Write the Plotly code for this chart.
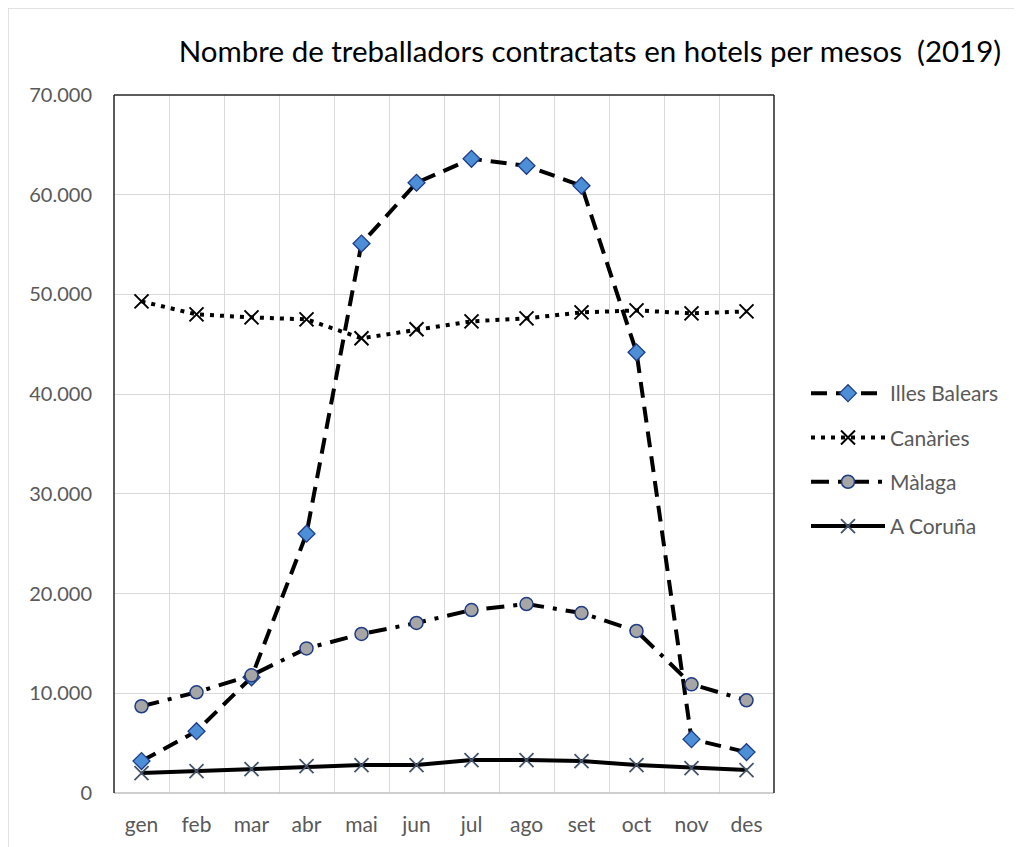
import plotly.graph_objects as go

months = ["gen", "feb", "mar", "abr", "mai", "jun", "jul", "ago", "set", "oct", "nov", "des"]
balears = [3200, 6200, 11600, 26000, 55100, 61200, 63600, 62900, 60900, 44200, 5400, 4100]
canaries = [49300, 48000, 47700, 47500, 45600, 46500, 47300, 47600, 48200, 48400, 48100, 48300]
malaga = [8700, 10100, 11800, 14500, 15950, 17050, 18350, 18950, 18050, 16250, 10900, 9300]
coruna = [2000, 2200, 2400, 2700, 2800, 2800, 3300, 3300, 3200, 2800, 2500, 2300]
yticks = [0, 10000, 20000, 30000, 40000, 50000, 60000, 70000]

FONT = "Lato"
GRAY = "#595959"

fig = go.Figure()
fig.add_trace(go.Scatter(
    x=months, y=balears, name="Illes Balears", mode="lines+markers", legendgroup="a",
    line=dict(color="black", width=4, dash="16px,9px"),
    marker=dict(symbol="diamond", size=13, color="#4C8FD6", line=dict(color="#1F3C88", width=1.3)),
))
fig.add_trace(go.Scatter(
    x=months, y=canaries, name="Canàries", mode="lines+markers", legendgroup="b",
    line=dict(color="black", width=4, dash="4px,6px"),
    marker=dict(symbol="x-thin", size=14, color="black", line=dict(color="black", width=2)),
))
fig.add_trace(go.Scatter(
    x=months, y=malaga, name="Màlaga", mode="lines+markers", legendgroup="c",
    line=dict(color="black", width=4, dash="18px,9px,4px,9px"),
    marker=dict(symbol="circle", size=13, color="#A6A6A6", line=dict(color="#1F3C88", width=1.5)),
))
fig.add_trace(go.Scatter(
    x=months, y=coruna, name="A Coruña", mode="lines+markers", legendgroup="d",
    line=dict(color="black", width=4),
    marker=dict(symbol="x-thin", size=14, color="#44546A", line=dict(color="#44546A", width=1.8)),
))

OFF = 8  # default page body margin
W, H = 1022, 847
# target positions on the page, converted to figure pixels
L, R, T, B = 114 - OFF, 774 - OFF, 95 - OFF, 793 - OFF

def px_x(px):
    return (px - OFF - L) / (R - L)

def px_y(py):
    return (B - (py - OFF)) / (B - T)

fig.update_layout(
    width=W, height=H,
    margin=dict(l=L, r=W - R, t=T, b=H - B, pad=0),
    paper_bgcolor="white", plot_bgcolor="white",
    separators=",.",
    font=dict(family=FONT, size=20, color=GRAY),
    title=dict(
        text="Nombre de treballadors contractats en hotels per mesos  (2019)",
        font=dict(family=FONT, size=29.5, color="black"),
        x=(590 - OFF) / W, xanchor="center", xref="container",
        y=1 - (52 - OFF) / H, yanchor="middle", yref="container",
    ),
    showlegend=True,
    legend=dict(
        x=px_x(806), y=px_y(373), xanchor="left", yanchor="top",
        font=dict(family=FONT, size=21, color=GRAY),
        tracegroupgap=14, itemwidth=74, bgcolor="rgba(0,0,0,0)",
    ),
    xaxis=dict(
        type="category", range=[-0.5, len(months) - 0.5], tickson="boundaries",
        showgrid=True, gridcolor="#D9D9D9", gridwidth=1,
        ticks="", showline=False, zeroline=False, ticklabelstandoff=17,
        tickfont=dict(family=FONT, size=21, color=GRAY),
    ),
    yaxis=dict(
        range=[0, 70000], tickvals=yticks, tickformat=",d",
        showgrid=True, gridcolor="#D9D9D9", gridwidth=1,
        ticks="", showline=False, zeroline=False, ticklabelstandoff=21,
        tickfont=dict(family=FONT, size=20, color=GRAY),
    ),
    shapes=[
        # outer chart frame
        dict(type="line", xref="paper", yref="paper", x0=px_x(8), x1=px_x(1040), y0=px_y(8), y1=px_y(8),
             line=dict(color="#D9D9D9", width=1.5)),
        dict(type="line", xref="paper", yref="paper", x0=px_x(8), x1=px_x(8), y0=px_y(8), y1=px_y(870),
             line=dict(color="#D9D9D9", width=1.5)),
        # plot area border
        dict(type="line", xref="paper", yref="paper", x0=0, x1=1, y0=0, y1=0,
             line=dict(color="#BFBFBF", width=1.5)),
        dict(type="line", xref="paper", yref="paper", x0=0, x1=0, y0=0, y1=1,
             line=dict(color="#262626", width=1.5)),
        dict(type="line", xref="paper", yref="paper", x0=1, x1=1, y0=0, y1=1,
             line=dict(color="#262626", width=1.5)),
        dict(type="line", xref="paper", yref="paper", x0=0, x1=1, y0=1, y1=1,
             line=dict(color="#262626", width=1.5)),
    ],
)

fig.write_html("out.html")
